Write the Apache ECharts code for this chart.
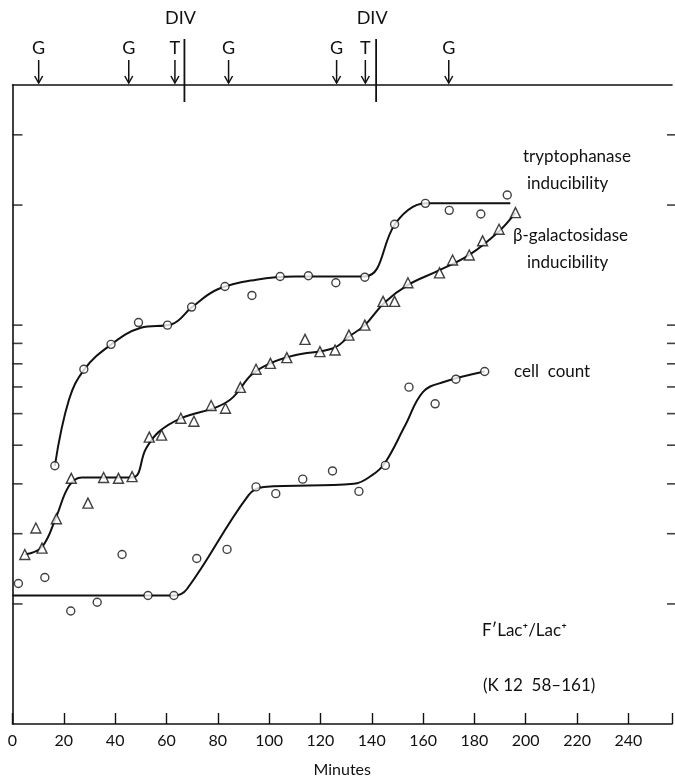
<!DOCTYPE html>
<html>
<head>
<meta charset="utf-8">
<script src="https://cdn.jsdelivr.net/npm/echarts@6/dist/echarts.min.js"></script>
<style>html,body{margin:0;padding:0;background:#fff;}#c{width:675px;height:783px;}</style>
</head>
<body>
<div id="c"></div>
<script>
// ---- data (minutes, relative value on log scale) ----
const xTicks = [0,20,40,60,80,100,120,140,160,180,200,220,240];
const yTickValues = [2,3,4,5,6,7,8,9,10,20,30];

const trypPoints = [[16.5,4.44],[27.8,7.75],[38.4,8.95],[49.1,10.15],[60.4,10.0],[69.8,11.1],[82.8,12.5],[93.3,11.87],[104.3,13.24],[115.3,13.3],[126,12.77],[137.3,13.19],[148.9,17.9],[160.9,20.2],[170.2,19.4],[182.5,19.0],[192.8,21.2]];
const trypCurve = [[16.5,4.44],[22,6.5],[28,7.75],[38,8.9],[50,9.85],[62,10.05],[70,11.1],[80,12.3],[95,13.0],[110,13.25],[137.3,13.25],[149,17.9],[156,19.8],[163,20.2],[194,20.2]];

const bgalPoints = [[4.8,2.66],[9.1,3.10],[11.5,2.76],[17.1,3.27],[22.9,4.13],[29.4,3.58],[35.5,4.15],[41.3,4.13],[46.6,4.17],[53.3,5.24],[58.1,5.30],[65.6,5.84],[70.7,5.74],[77.4,6.29],[83.0,6.19],[88.8,6.98],[94.9,7.75],[100.5,8.02],[106.9,8.29],[114,9.21],[119.8,8.58],[125.7,8.66],[131.1,9.44],[137.3,10.0],[144.4,11.47],[148.9,11.47],[154.1,12.77],[166.4,13.52],[171.5,14.57],[178,14.99],[183.2,16.27],[189.6,17.4],[196,19.15]];
const bgalCurve = [[4.8,2.66],[11.5,2.78],[17,3.3],[22,3.95],[27,4.15],[46.6,4.15],[52,4.9],[57,5.4],[65.6,5.84],[80,6.25],[86,6.6],[93,7.5],[100,8.0],[110,8.4],[125,8.75],[131,9.35],[137.3,10.0],[145,11.4],[154,12.6],[166,13.7],[178,15.0],[189.6,17.2],[196,19.15]];

const cellPoints = [[2.3,2.25],[12.6,2.33],[22.7,1.92],[33,2.02],[42.7,2.66],[52.8,2.10],[62.9,2.10],[71.8,2.60],[83.6,2.74],[94.9,3.93],[102.6,3.78],[113.1,4.11],[124.7,4.31],[135,3.83],[145.3,4.45],[154.5,6.99],[164.7,6.35],[172.8,7.32],[184,7.65]];
const cellCurve = [[0,2.10],[63,2.10],[68,2.18],[92,3.75],[98,3.93],[133,4.0],[140,4.2],[145,4.5],[153,5.6],[160,6.8],[168,7.2],[184,7.65]];

const arrowMarks = [[10.2,'G'],[45.3,'G'],[63.3,'T'],[84.2,'G'],[126.3,'G'],[137.5,'T'],[170,'G']];
const divMarks = [[67,'DIV'],[141.7,'DIV']];

const FONT = 'Lato, "Open Sans", sans-serif';
const chart = echarts.init(document.getElementById('c'), null, {renderer:'canvas'});

function curve(data){
  return {type:'line', data:data, xAxisIndex:0, yAxisIndex:0, smooth:0.4, symbol:'none', silent:true,
    lineStyle:{color:'#111', width:2}, z:2};
}
function pts(data, sym, size){
  return {type:'scatter', data:data, xAxisIndex:0, yAxisIndex:0, symbol:sym, symbolSize:size, silent:true, clip:false,
    itemStyle:{color:'#fff', borderColor:'#111', borderWidth:1.4}, z:3};
}
function ticks(xv, off){
  return {type:'scatter', data:yTickValues.map(v=>[xv,v]), symbol:'rect', symbolSize:[10,1.6], symbolOffset:[off,0],
     itemStyle:{color:'#111'}, silent:true, clip:false, z:4};
}

const option = {
  animation:false,
  backgroundColor:'#fff',
  grid:{left:12.5, right:0, top:85, bottom:55, containLabel:false},
  xAxis:[
    {type:'value', position:'bottom', min:0, max:257, interval:20,
     axisLine:{show:true, lineStyle:{color:'#111', width:1.6}},
     axisTick:{show:true, inside:true, length:11, lineStyle:{color:'#111', width:1.4}},
     axisLabel:{color:'#111', fontSize:16, fontFamily:FONT, margin:9, formatter:function(v){return v%20===0 ? String(v) : '';}},
     splitLine:{show:false},
     name:'Minutes', nameLocation:'middle', nameGap:38, nameTextStyle:{color:'#111', fontSize:16, fontFamily:FONT}},
    {type:'value', position:'top', min:0, max:257,
     axisLine:{show:true, lineStyle:{color:'#111', width:1.6}},
     axisTick:{show:false}, axisLabel:{show:false}, splitLine:{show:false}}
  ],
  yAxis:[{type:'log', logBase:10, min:1, max:40,
     axisLine:{show:true, lineStyle:{color:'#111', width:1.6}},
     axisTick:{show:false}, axisLabel:{show:false}, splitLine:{show:false}}],
  graphic:[
    {type:'text', left:523, top:148, style:{text:'tryptophanase', fontSize:17, fontFamily:FONT, fill:'#111'}},
    {type:'text', left:527, top:175, style:{text:'inducibility', fontSize:17, fontFamily:FONT, fill:'#111'}},
    {type:'text', left:513, top:227, style:{text:'β-galactosidase', fontSize:17, fontFamily:FONT, fill:'#111'}},
    {type:'text', left:527, top:254, style:{text:'inducibility', fontSize:17, fontFamily:FONT, fill:'#111'}},
    {type:'text', left:514, top:363, style:{text:'cell  count', fontSize:17, fontFamily:FONT, fill:'#111'}},
    {type:'text', left:482, top:622, style:{text:'F′Lac⁺/Lac⁺', fontSize:17, fontFamily:FONT, fill:'#111'}},
    {type:'text', left:483, top:677, style:{text:'(K 12  58–161)', fontSize:17, fontFamily:FONT, fill:'#111'}}
  ],
  series:[
    curve(trypCurve), pts(trypPoints,'circle',8),
    curve(bgalCurve), pts(bgalPoints,'triangle',10),
    curve(cellCurve), pts(cellPoints,'circle',8),
    ticks(0, 5), ticks(257, 0),
    {type:'custom', data:arrowMarks, clip:false, silent:true, z:5,
     renderItem:function(params, api){
       const p = api.coord([api.value(0), 40]);
       const x = p[0], y = p[1];
       return {type:'group', children:[
         {type:'text', style:{text:arrowMarks[params.dataIndex][1], x:x, y:y-37, align:'center', verticalAlign:'middle', fontSize:18, fontFamily:FONT, fill:'#111'}},
         {type:'line', shape:{x1:x, y1:y-25, x2:x, y2:y-2}, style:{stroke:'#111', lineWidth:1.5}},
         {type:'polyline', shape:{points:[[x-4,y-9],[x,y-2],[x+4,y-9]]}, style:{stroke:'#111', lineWidth:1.5, fill:null}}
       ]};
     }},
    {type:'custom', data:divMarks, clip:false, silent:true, z:5,
     renderItem:function(params, api){
       const p = api.coord([api.value(0), 40]);
       const x = p[0], y = p[1];
       return {type:'group', children:[
         {type:'text', style:{text:divMarks[params.dataIndex][1], x:x-4, y:y-67, align:'center', verticalAlign:'middle', fontSize:18, fontFamily:FONT, fill:'#111'}},
         {type:'line', shape:{x1:x, y1:y-46, x2:x, y2:y+17}, style:{stroke:'#111', lineWidth:1.8}}
       ]};
     }}
  ]
};
chart.setOption(option);
</script>
</body>
</html>
